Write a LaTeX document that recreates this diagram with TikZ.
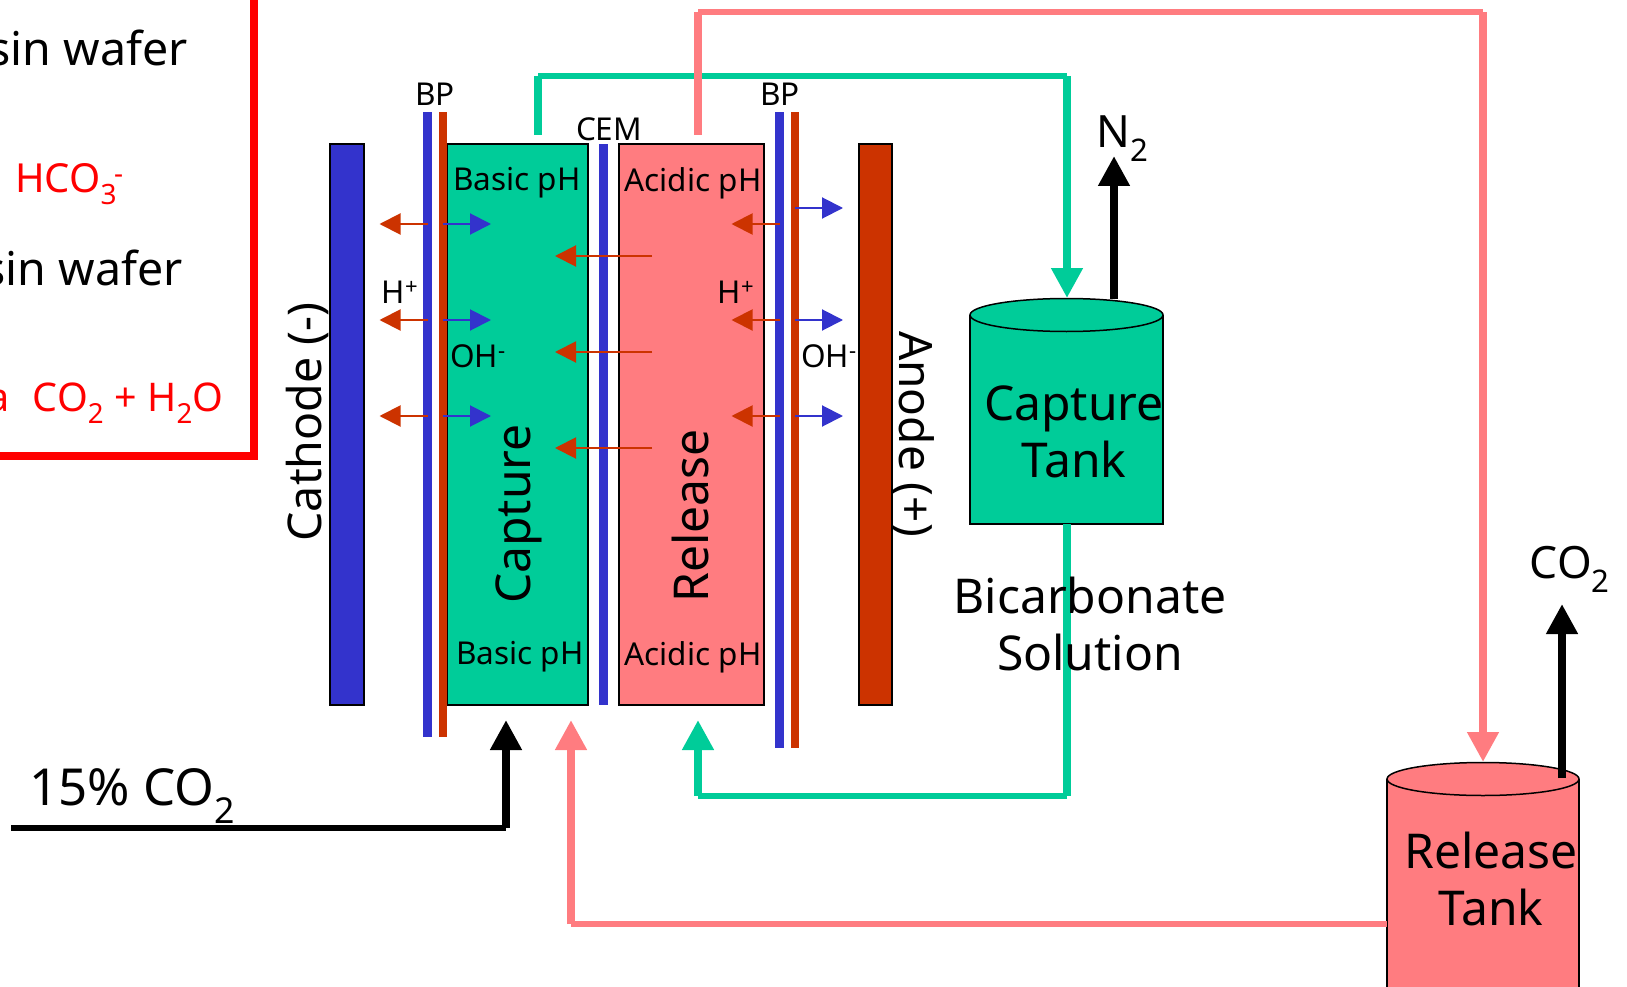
\documentclass[tikz,border=0pt]{standalone}
\usepackage{fontspec}
\setmainfont{Noto Sans}
\usetikzlibrary{arrows.meta}
\definecolor{teal}{RGB}{0, 204, 153}
\definecolor{pink}{RGB}{255, 124, 128}
\definecolor{blue}{RGB}{51, 51, 204}
\definecolor{rust}{RGB}{204, 51, 0}
\definecolor{panel}{RGB}{255, 0, 0}
\newcommand{\sz}[1]{\fontsize{#1}{#1}\selectfont}
\tikzset{
  plate/.style={draw=black, line width=1.5, inner sep=0, minimum width=#1, minimum height=561},
  membrane/.style={inner sep=0, minimum width=#1, minimum height=625},
  tankline/.style={draw=black, line width=1.5},
  pipeh/.style={line width=6},
  pipev/.style={line width=8},
  pipetip/.style={line width=8, -{Triangle[length=30pt, width=30pt]}},
  iontip/.style={line width=2, -{Triangle[length=21pt, width=21pt]}},
  small/.style={font=\sz{31.5}, inner sep=0},
  mid/.style={font=\sz{44.5}, inner sep=0},
  big/.style={font=\sz{48}, inner sep=0}
}
\begin{document}
\begin{tikzpicture}[x=1pt, y=-1pt]
  \useasboundingbox (0, 0) rectangle (1627, 987);
  \clip (0, 0) rectangle (1627, 987);

  \draw[panel, line width=8] (-20, 456) -- (254, 456) -- (254, -20);
  \node[big, font=\sz{46.5}, anchor=east] (wafera) at (188, 48) {sin wafer};
  \node[big, font=\sz{46.5}, anchor=east] (waferb) at (183, 268) {sin wafer};
  \node[mid, font=\sz{40}, panel, anchor=west] (bicarb) at (15, 184) {HCO\textsubscript{3}\hspace{-3pt}\textsuperscript{-}};
  \node[mid, font=\sz{39.5}, panel, anchor=east] (water) at (224, 403) {a\hspace{23pt}CO\textsubscript{2} + H\textsubscript{2}O};

  \node[plate=34, fill=blue] (cathode) at (347, 424.5) {};
  \node[plate=141, fill=teal] (capture) at (517.5, 424.5) {};
  \node[plate=145, fill=pink] (release) at (691.5, 424.5) {};
  \node[plate=33, fill=rust] (anode) at (875.5, 424.5) {};

  \node[membrane=9, fill=blue] (bpla) at (427.5, 424.5) {};
  \node[membrane=8, fill=rust] (bplb) at (443, 424.5) {};
  \node[inner sep=0, minimum width=9, minimum height=561, fill=blue] (cem) at (603.5, 424.5) {};
  \node[membrane=9, minimum height=636, fill=blue] (bpra) at (779.5, 430) {};
  \node[membrane=8, minimum height=636, fill=rust] (bprb) at (795, 430) {};

  % tanks
  \draw[tankline, fill=teal] (970, 315) -- (970, 524) -- (1163, 524) -- (1163, 315);
  \draw[tankline, fill=teal] (1066.5, 315) ellipse (96.5 and 16.5);
  \draw[tankline, fill=pink] (1387, 779) -- (1387, 1000) -- (1579, 1000) -- (1579, 779);
  \draw[tankline, fill=pink] (1483, 779) ellipse (96 and 16.5);
  \coordinate (captop) at (1067, 298);
  \coordinate (capbot) at (1067, 524);
  \coordinate (reltop) at (1483, 762);

  % pipes between cell and tanks
  \coordinate (capout) at (538, 135);
  \coordinate (relout) at (698, 135);
  \coordinate (tealtopa) at (538, 76);
  \coordinate (tealtopb) at (1067, 76);
  \coordinate (pinktopa) at (698, 12);
  \coordinate (pinktopb) at (1483, 12);
  \coordinate (tealbota) at (1067, 796);
  \coordinate (tealbotb) at (698, 796);
  \coordinate (relin) at (698, 720);
  \coordinate (pinkbota) at (1387, 924);
  \coordinate (pinkbotb) at (571, 924);
  \coordinate (capin) at (571, 720);
  \coordinate (gasa) at (11, 828);
  \coordinate (gasb) at (506, 828);
  \coordinate (gasin) at (506, 720);
  \coordinate (ntwoa) at (1114, 299);
  \coordinate (ntwob) at (1114, 156);
  \coordinate (cotwoa) at (1562, 778);
  \coordinate (cotwob) at (1562, 604);

  \draw[teal, pipev] (capout) -- (tealtopa);
  \draw[teal, pipeh] (tealtopa) -- (tealtopb);
  \draw[teal, pipetip] (tealtopb) -- (captop);
  \draw[pink, pipev] (relout) -- (pinktopa);
  \draw[pink, pipeh] (pinktopa) -- (pinktopb);
  \draw[pink, pipetip] (pinktopb) -- (reltop);
  \draw[teal, pipev] (capbot) -- (tealbota);
  \draw[teal, pipeh] (tealbota) -- (tealbotb);
  \draw[teal, pipetip] (tealbotb) -- (relin);
  \draw[pink, pipeh] (pinkbota) -- (pinkbotb);
  \draw[pink, pipetip] (pinkbotb) -- (capin);
  \draw[black, pipeh] (gasa) -- (gasb);
  \draw[black, pipetip] (gasb) -- (gasin);
  \draw[black, pipetip] (ntwoa) -- (ntwob);
  \draw[black, pipetip] (cotwoa) -- (cotwob);

  \foreach \y in {224, 320, 416} {
    \draw[rust, iontip] (bpla.center |- 0, \y) -- ++(-48, 0);
    \draw[blue, iontip] (bplb.center |- 0, \y) -- ++(48, 0);
    \draw[rust, iontip] (bpra.center |- 0, \y) -- ++(-48, 0);
  }
  \foreach \y in {208, 320, 416} {
    \draw[blue, iontip] (bprb.center |- 0, \y) -- ++(48, 0);
  }
  \foreach \y in {256, 352, 448} {
    \draw[rust, iontip] (652, \y) -- (555, \y);
  }

  \node[small] (bpa) at (435, 94) {BP};
  \node[small] (bpb) at (780, 94) {BP};
  \node[small] (cemlab) at (609, 129) {CEM};
  \node[small] (basica) at (517, 183) {Basic pH};
  \node[small] (basicb) at (520, 657) {Basic pH};
  \node[small] (acida) at (693, 183) {Acidic pH};
  \node[small] (acidb) at (693, 657) {Acidic pH};
  \node[small] (hplusa) at (400, 292) {H\textsuperscript{+}};
  \node[small] (hplusb) at (736, 292) {H\textsuperscript{+}};
  \node[small] (oha) at (478, 356) {OH\textsuperscript{-}};
  \node[small] (ohb) at (829, 356) {OH\textsuperscript{-}};

  \node[big, font=\sz{46.5}, rotate=90] (cathodelab) at (307, 422) {Cathode (-)};
  \node[big, rotate=90] (capturelab) at (519, 514) {Capture};
  \node[big, rotate=90] (releaselab) at (690, 516) {Release};
  \node[big, font=\sz{46}, rotate=-90] (anodelab) at (913, 434) {Anode (+)};

  \node[big] (capa) at (1074, 409) {Capture};
  \node[big] (capb) at (1074, 459) {Tank};
  \node[big] (bica) at (1090, 595) {Bicarbonate};
  \node[big] (bicb) at (1090, 652) {Solution};
  \node[big] (rela) at (1491, 850) {Release};
  \node[big] (relb) at (1491, 907) {Tank};
  \node[mid] (ntwo) at (1123, 139) {N\textsubscript{2}};
  \node[mid] (cotwo) at (1570, 569) {CO\textsubscript{2}};
  \node[big, font=\sz{51}] (gas) at (132, 796) {15\% CO\textsubscript{2}};
\end{tikzpicture}
\end{document}
